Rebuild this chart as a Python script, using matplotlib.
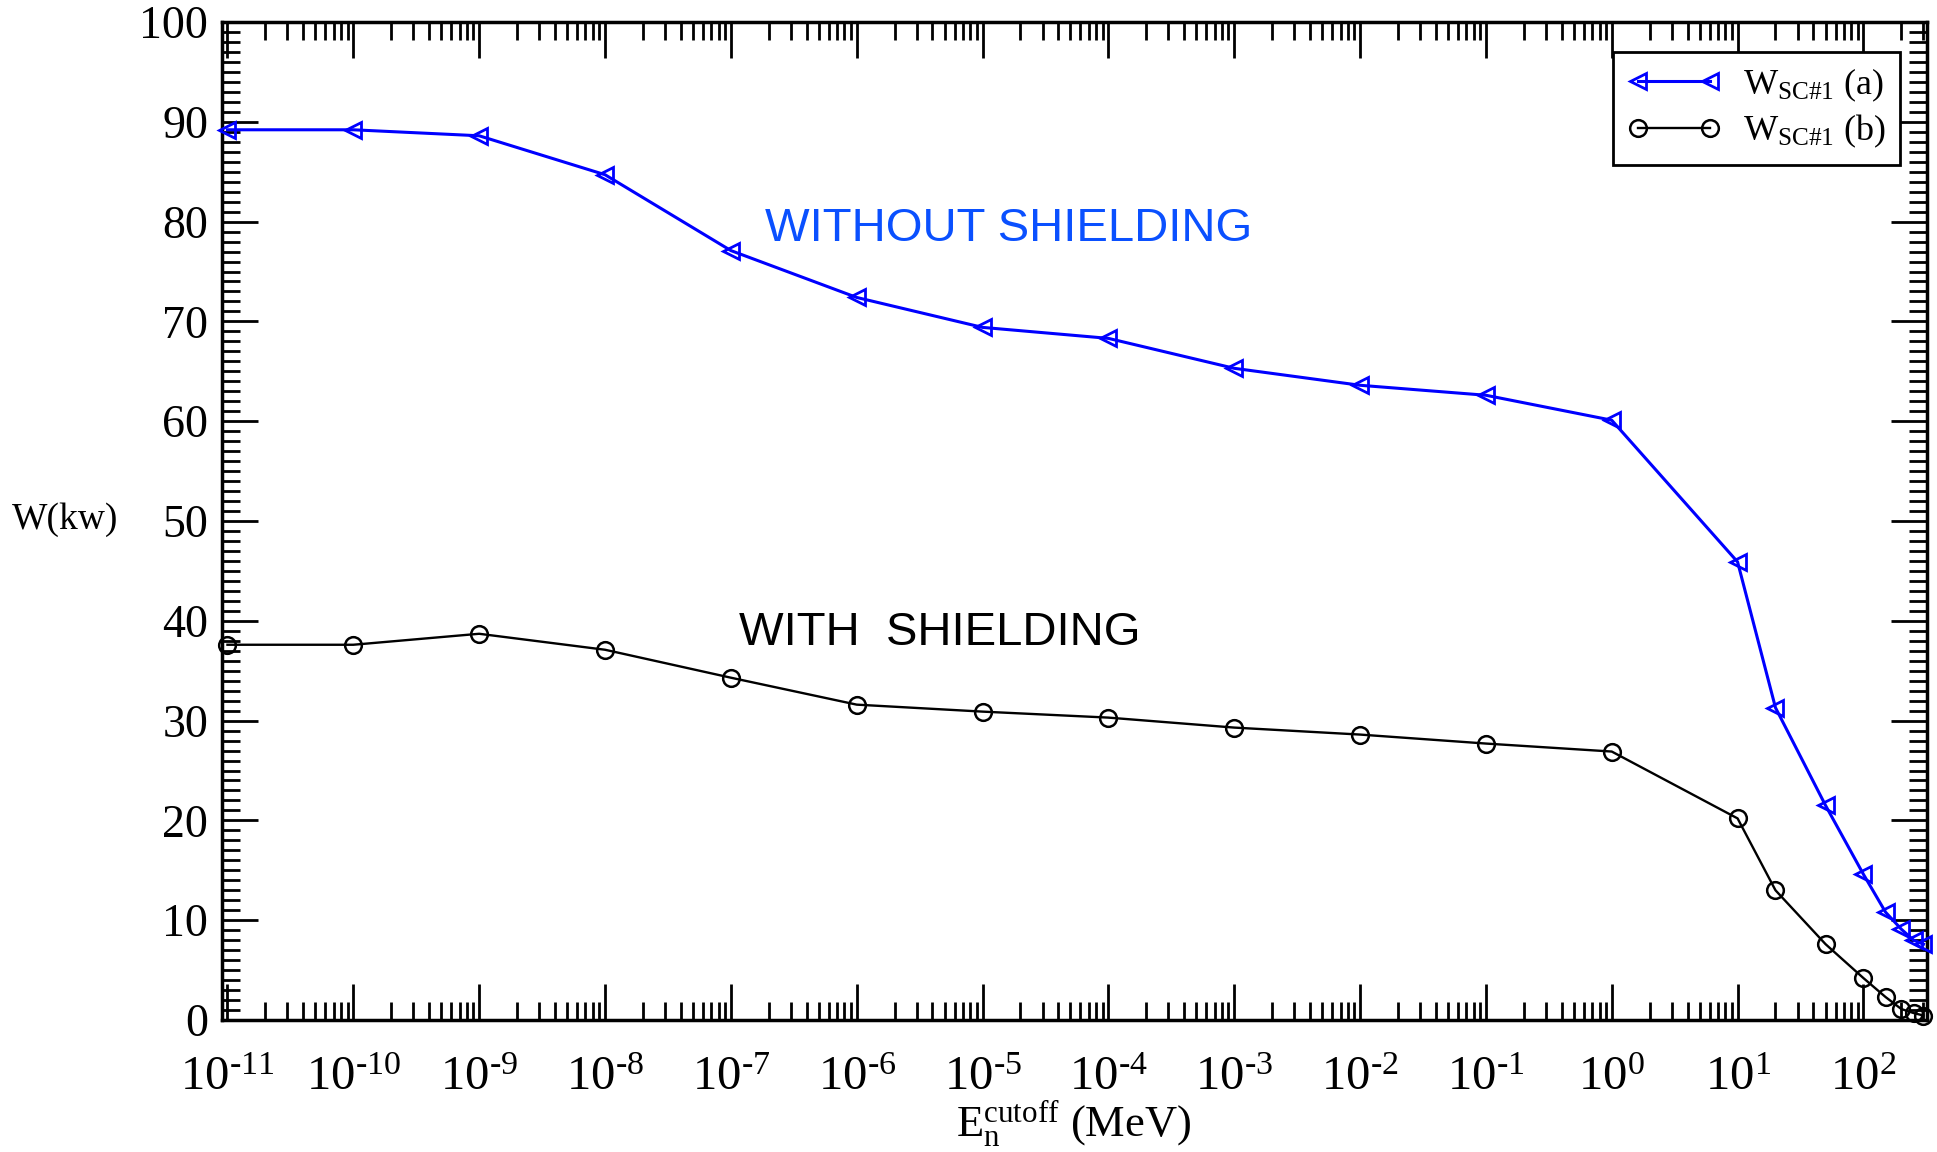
import numpy as np
import matplotlib
matplotlib.use("Agg")
import matplotlib.pyplot as plt
from matplotlib.ticker import LogLocator, MultipleLocator, FuncFormatter

plt.rcParams["font.family"] = ["Liberation Serif", "DejaVu Serif"]
plt.rcParams["mathtext.fontset"] = "custom"
plt.rcParams["mathtext.rm"] = "Liberation Serif"
plt.rcParams["mathtext.it"] = "Liberation Serif:italic"

# Cutoff energies (MeV)
energy = [1e-11, 1e-10, 1e-9, 1e-8, 1e-7, 1e-6, 1e-5, 1e-4, 1e-3, 1e-2, 1e-1, 1e0,
          1e1, 20, 50, 100, 150, 200, 250, 300]

# W (kW) without shielding
w_a = [89.2, 89.2, 88.6, 84.7, 77.1, 72.4, 69.4, 68.3, 65.3, 63.6, 62.6, 60.1,
       45.9, 31.3, 21.5, 14.6, 10.8, 9.1, 8.0, 7.6]

# W (kW) with shielding
w_b = [37.6, 37.6, 38.7, 37.1, 34.3, 31.6, 30.9, 30.3, 29.3, 28.6, 27.7, 26.9,
       20.2, 13.0, 7.6, 4.2, 2.3, 1.1, 0.7, 0.45]

W, H = 1937, 1152
fig = plt.figure(figsize=(W / 100, H / 100), dpi=100)
ax = fig.add_axes([222 / W, 1 - 1020 / H, (1927 - 222) / W, (1020 - 22) / H])

ax.plot(energy, w_a, color="#0000ff", lw=2.2, marker="<", ms=12, mfc="none",
        mew=2.0, label=r"W$_{\mathrm{SC\#1}}$ (a)", clip_on=False, zorder=3)
ax.plot(energy, w_b, color="black", lw=1.7, marker="o", ms=12, mfc="none",
        mew=1.8, label=r"W$_{\mathrm{SC\#1}}$ (b)", clip_on=False, zorder=3)

ax.set_xscale("log")
ax.set_xlim(9.05e-12, 3.2e2)
ax.set_ylim(0, 100)


def decade_label(x, pos):
    e = int(round(np.log10(x)))
    return r"$10^{\text{%d}}$" % e


ax.xaxis.set_major_locator(LogLocator(base=10, numticks=20))
ax.xaxis.set_minor_locator(LogLocator(base=10, subs=np.arange(2, 10), numticks=200))
ax.xaxis.set_major_formatter(FuncFormatter(decade_label))
ax.yaxis.set_major_locator(MultipleLocator(10))
ax.yaxis.set_minor_locator(MultipleLocator(1))

ax.tick_params(which="both", direction="in", top=True, right=True, labelsize=33)
ax.tick_params(which="major", length=26, width=2)
ax.tick_params(which="minor", length=13, width=2)
ax.tick_params(axis="x", pad=26, labelsize=35)
ax.tick_params(axis="y", pad=10)
for s in ax.spines.values():
    s.set_linewidth(2.5)

ax.text(1.86e-7, 79.3, "WITHOUT SHIELDING", color="#0a50ff", fontsize=34,
        family="Liberation Sans", ha="left", va="center")
ax.text(1.17e-7, 38.8, "WITH  SHIELDING", color="black", fontsize=34,
        family="Liberation Sans", ha="left", va="center")

fig.text(12 / W, 1 - 520 / H, "W(kw)", fontsize=27, ha="left", va="center")
fig.text(1074 / W, 3 / H, r"E$_{\mathrm{n}}^{\mathrm{cutoff}}$ (MeV)",
         fontsize=32, ha="center", va="bottom")

leg = ax.legend(loc="upper right", bbox_to_anchor=(1900 / W, 1 - 52 / H),
                bbox_transform=fig.transFigure, borderaxespad=0, numpoints=2,
                fancybox=False, framealpha=1, edgecolor="black", fontsize=26,
                handlelength=2.6, borderpad=0.4, labelspacing=0.25,
                handletextpad=0.6)
leg.get_frame().set_linewidth(2)

fig.savefig("out.png", dpi=100)
